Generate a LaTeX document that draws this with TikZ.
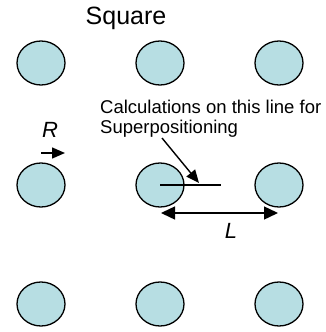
\documentclass[tikz,border=0pt]{standalone}
\usepackage{fontspec}
\setmainfont{Liberation Sans}
\usetikzlibrary{arrows.meta, positioning, shapes.geometric, calc}
\definecolor{dotfill}{RGB}{183,222,227}

\begin{document}
\begin{tikzpicture}[
  x=1pt, y=-1pt,
  dot/.style={ellipse, draw, line width=1.3pt, fill=dotfill, minimum width=48pt, minimum height=44pt, inner sep=0pt},
  lbl/.style={font=\fontsize{18.5}{20}\selectfont, inner sep=0pt},
  ilbl/.style={font=\fontsize{22}{24}\selectfont\itshape, inner sep=0pt},
  arr/.style={line width=1.4pt, -{Triangle[length=13pt,width=11pt]}},
  dimarr/.style={line width=1.4pt, {Triangle[length=14pt,width=13pt]}-{Triangle[length=14pt,width=13pt]}}
]
\useasboundingbox (0,0) rectangle (325,332);

% Title
\node[lbl, font=\fontsize{25}{28}\selectfont, anchor=base] (title) at (126,24) {Square};

% Square grid of cells
\foreach \r/\y in {1/63,2/185,3/304}
  \foreach \c/\x in {1/41,2/160,3/279}
    \node[dot] (c-\r-\c) at (\x,\y) {};

% Calculation line
\coordinate (lineend) at (221,185);
\draw[line width=1.3pt] (c-2-2.center) -- (lineend);

% Note and leader
\node[lbl, anchor=north west, align=left] (note) at (100,100) {Calculations on this line for\\Superpositioning};
\coordinate (lead) at (162,138);
\coordinate (tip) at (199,183);
\draw[arr] (lead) -- (tip);

% Radius
\node[ilbl, anchor=base] (rlbl) at (50,137) {R};
\coordinate (rstart) at (41,153);
\coordinate (rend) at (65,153);
\draw[arr] (rstart) -- (rend);

% Spacing
\coordinate (lleft) at (161,213);
\coordinate (lright) at (278,213);
\draw[dimarr] (lleft) -- (lright);
\node[ilbl, anchor=base] (llbl) at (231,238) {L};

\end{tikzpicture}
\end{document}
